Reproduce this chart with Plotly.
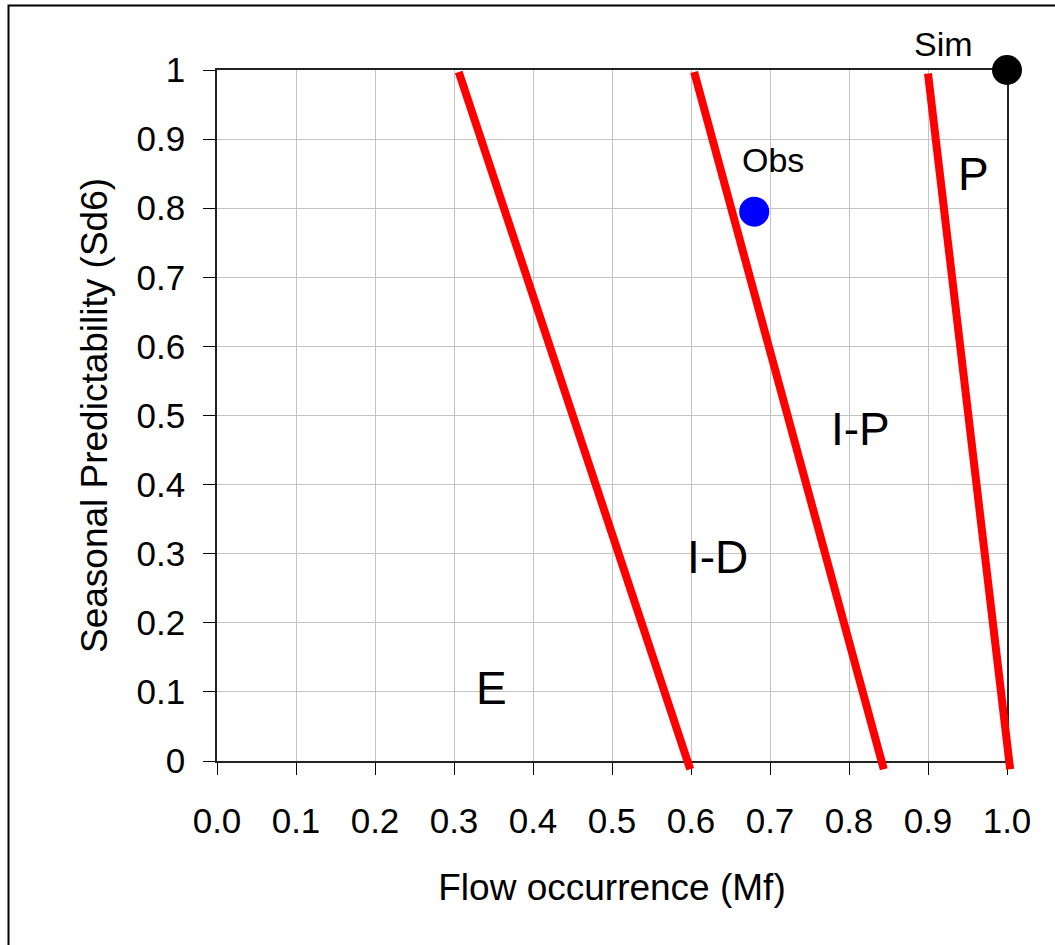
import plotly.graph_objects as go

# ---- data ----
boundary_names = ["E/I-D", "I-D/I-P", "I-P/P"]
boundary_x = [[0.306, 0.599], [0.604, 0.844], [0.900, 1.004]]
boundary_y = [[0.997, -0.012], [0.997, -0.012], [0.995, -0.012]]

point_names = ["Obs", "Sim"]
point_x = [0.680, 1.0]
point_y = [0.795, 1.0]
point_colors = ["#0000ff", "#000000"]
point_label_x = [0.704, 0.92]
point_label_y = [0.870, 1.0]
point_label_shift = [0, 26]

region_names = ["E", "I-D", "I-P", "P"]
region_x = [0.348, 0.633, 0.814, 0.957]
region_y = [0.106, 0.295, 0.481, 0.849]

x_tickvals = [0.0, 0.1, 0.2, 0.3, 0.4, 0.5, 0.6, 0.7, 0.8, 0.9, 1.0]
x_ticktext = ["0.0", "0.1", "0.2", "0.3", "0.4", "0.5", "0.6", "0.7", "0.8", "0.9", "1.0"]
y_tickvals = [0, 0.1, 0.2, 0.3, 0.4, 0.5, 0.6, 0.7, 0.8, 0.9, 1]
y_ticktext = ["0", "0.1", "0.2", "0.3", "0.4", "0.5", "0.6", "0.7", "0.8", "0.9", "1"]

# ---- layout geometry (pixels) ----
FIG_W, FIG_H = 1055, 945
ML, MR, MT, MB = 207, 38, 60, 174
PAD = 10  # extra room so lines/markers are not clipped
W = FIG_W - ML - MR
H = FIG_H - MT - MB
plot_w = W - 2 * PAD
plot_h = H - 2 * PAD

FONT = "Liberation Sans, Arial, sans-serif"

fig = go.Figure()

# red boundary lines on unclipped overlay subplot (same scale as main axes)
for name, xs, ys in zip(boundary_names, boundary_x, boundary_y):
    fig.add_trace(go.Scatter(x=xs, y=ys, mode="lines", name=name,
                             line=dict(color="#ff0000", width=8),
                             xaxis="x2", yaxis="y2", showlegend=False,
                             hoverinfo="skip"))

for name, xv, yv, c in zip(point_names, point_x, point_y, point_colors):
    fig.add_trace(go.Scatter(x=[xv], y=[yv], mode="markers", name=name,
                             marker=dict(color=c, size=30, line=dict(width=0)),
                             cliponaxis=False,
                             xaxis="x2", yaxis="y2", showlegend=False))

# invisible anchor trace for main axes
fig.add_trace(go.Scatter(x=[0, 1], y=[0, 1], mode="markers",
                         marker=dict(opacity=0), showlegend=False, hoverinfo="skip"))

annotations = []
for t, xv, yv, sh in zip(point_names, point_label_x, point_label_y, point_label_shift):
    annotations.append(dict(x=xv, y=yv, xref="x2", yref="y2", text=t, showarrow=False,
                            font=dict(family=FONT, size=34, color="black"),
                            xanchor="center", yanchor="middle", yshift=sh))
for t, xv, yv in zip(region_names, region_x, region_y):
    annotations.append(dict(x=xv, y=yv, xref="x", yref="y", text=t, showarrow=False,
                            font=dict(family=FONT, size=46, color="black"),
                            xanchor="center", yanchor="middle"))

ext_x = PAD / plot_w
ext_y = PAD / plot_h

axis_common = dict(
    range=[0, 1], ticks="outside", ticklen=12, tickwidth=1, tickcolor="#000000",
    showgrid=True, gridcolor="#c4c4c4", gridwidth=1, zeroline=False,
    showline=True, linecolor="#222222", linewidth=1.5, mirror=True,
    tickfont=dict(family=FONT, size=35, color="black"),
    title_font=dict(family=FONT, size=37, color="black"),
)

fig.update_layout(
    width=FIG_W, height=FIG_H,
    margin=dict(l=ML, r=MR, t=MT, b=MB),
    paper_bgcolor="white", plot_bgcolor="rgba(0,0,0,0)",
    showlegend=False,
    xaxis=dict(axis_common, domain=[PAD / W, 1 - PAD / W],
               tickvals=x_tickvals, ticktext=x_ticktext,
               ticklabelstandoff=16,
               title=dict(text="Flow occurrence (Mf)", standoff=35)),
    yaxis=dict(axis_common, domain=[PAD / H, 1 - PAD / H],
               tickvals=y_tickvals, ticktext=y_ticktext,
               ticklabelstandoff=11,
               title=dict(text="Seasonal Predictability (Sd6)", standoff=18)),
    xaxis2=dict(domain=[0, 1], range=[-ext_x, 1 + ext_x], visible=False,
                anchor="y2"),
    yaxis2=dict(domain=[0, 1], range=[-ext_y, 1 + ext_y], visible=False,
                anchor="x2"),
    annotations=annotations,
    shapes=[dict(type="rect", xref="paper", yref="paper",
                 x0=(8.5 - ML) / W, x1=(FIG_W + 10 - ML) / W,
                 y0=(H + MT - FIG_H - 10) / H, y1=(H + MT - 5.5) / H,
                 line=dict(color="black", width=2), fillcolor="rgba(0,0,0,0)",
                 layer="below")],
)

fig.write_html("out.html")
